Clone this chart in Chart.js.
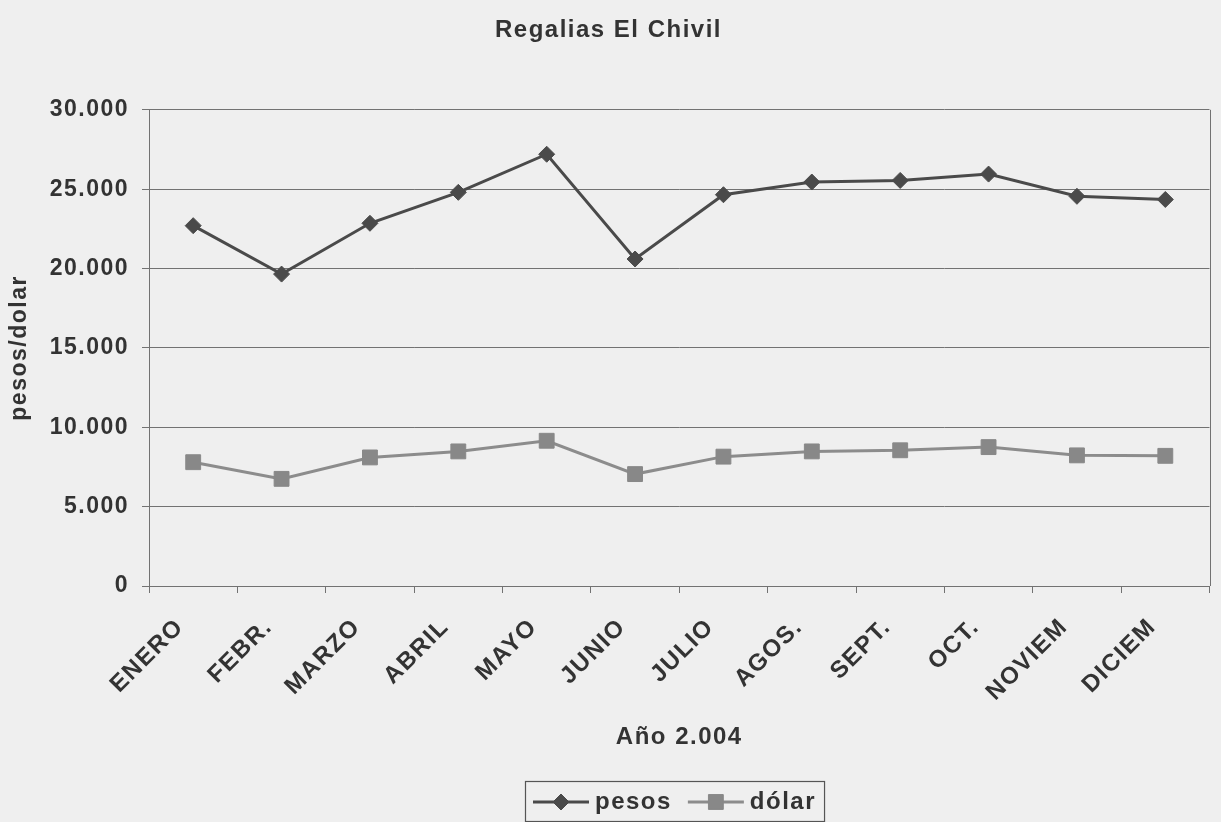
<!DOCTYPE html>
<html lang="es">
<head>
<meta charset="utf-8">
<title>Regalias El Chivil</title>
<script src="https://cdn.jsdelivr.net/npm/chart.js@4/dist/chart.umd.min.js"></script>
<style>
  html, body { margin: 0; padding: 0; background: #efefef; }
  #wrap { position: relative; width: 1221px; height: 822px; }
</style>
</head>
<body>
<div id="wrap"><canvas id="chart"></canvas></div>
<script>
// Regalías mensuales del año 2.004
const months = ['ENERO', 'FEBR.', 'MARZO', 'ABRIL', 'MAYO', 'JUNIO', 'JULIO', 'AGOS.', 'SEPT.', 'OCT.', 'NOVIEM', 'DICIEM'];
const pesos = [22700, 19650, 22850, 24800, 27200, 20600, 24650, 25450, 25550, 25950, 24550, 24350];
const dolar = [7800, 6750, 8100, 8480, 9150, 7050, 8150, 8480, 8550, 8750, 8230, 8200];
const yTickValues = [0, 5000, 10000, 15000, 20000, 25000, 30000];

const chartTitle = 'Regalias El Chivil';
const xTitle = 'Año 2.004';
const yTitle = 'pesos/dolar';

const FONT = '"Liberation Sans", Arial, Helvetica, sans-serif';
const TEXT = '#333333';
const GRID = '#727272';
const SPACING = '1.5px';

function fmt(v) {
  return String(v).replace(/\B(?=(\d{3})+(?!\d))/g, '.');
}

// wider glyph spacing for all canvas text
const spacingPlugin = {
  id: 'spacing',
  beforeLayout(chart) { chart.ctx.letterSpacing = SPACING; },
  beforeDraw(chart) { chart.ctx.letterSpacing = SPACING; }
};

// right edge of the plot frame
const framePlugin = {
  id: 'frame',
  beforeDatasetsDraw(chart) {
    const { ctx, chartArea: a } = chart;
    ctx.save();
    ctx.strokeStyle = GRID;
    ctx.lineWidth = 1;
    ctx.beginPath();
    ctx.moveTo(Math.round(a.right) + 0.5, a.top);
    ctx.lineTo(Math.round(a.right) + 0.5, a.bottom);
    ctx.stroke();
    ctx.restore();
  }
};

// boxed legend with line + marker samples
const boxLegend = {
  id: 'boxLegend',
  afterDraw(chart) {
    const ctx = chart.ctx;
    ctx.save();
    ctx.letterSpacing = SPACING;
    ctx.font = 'bold 24px ' + FONT;
    const lineLen = 56, gapText = 6, gapItem = 16, padX = 8;
    const items = chart.data.datasets.map(ds => ({
      ds, w: lineLen + gapText + ctx.measureText(ds.label).width
    }));
    const total = items.reduce((s, it) => s + it.w, 0) + gapItem * (items.length - 1) + padX * 2;
    const cx = (chart.chartArea.left + chart.chartArea.right) / 2 - 5;
    const left = Math.round(cx - total / 2);
    const top = 781, h = 40, cy = top + h / 2 + 1;
    ctx.fillStyle = '#efefef';
    ctx.fillRect(left, top, total, h);
    ctx.strokeStyle = '#555';
    ctx.lineWidth = 1.2;
    ctx.strokeRect(left + 0.5, top + 0.5, total, h);
    let x = left + padX;
    items.forEach(({ ds, w }) => {
      ctx.strokeStyle = ds.borderColor;
      ctx.lineWidth = ds.borderWidth;
      ctx.beginPath();
      ctx.moveTo(x, cy);
      ctx.lineTo(x + lineLen, cy);
      ctx.stroke();
      ctx.fillStyle = ds.pointBackgroundColor;
      ctx.strokeStyle = ds.pointBorderColor;
      ctx.lineWidth = ds.pointBorderWidth;
      Chart.helpers.drawPoint(ctx, {
        pointStyle: ds.pointStyle,
        radius: ds.pointRadius,
        borderWidth: ds.pointBorderWidth,
        rotation: 0
      }, x + lineLen / 2, cy);
      ctx.fillStyle = TEXT;
      ctx.textAlign = 'left';
      ctx.textBaseline = 'middle';
      ctx.fillText(ds.label, x + lineLen + gapText, cy);
      x += w + gapItem;
    });
    ctx.restore();
  }
};

new Chart(document.getElementById('chart'), {
  type: 'line',
  data: {
    labels: months,
    datasets: [
      {
        label: 'pesos',
        data: pesos,
        borderColor: '#4a4a4a',
        borderWidth: 3,
        pointStyle: 'rectRot',
        pointRadius: 8,
        pointBackgroundColor: '#4a4a4a',
        pointBorderColor: '#4a4a4a',
        pointBorderWidth: 1,
        tension: 0,
        clip: false
      },
      {
        label: 'dólar',
        data: dolar,
        borderColor: '#8c8c8c',
        borderWidth: 3,
        pointStyle: 'rect',
        pointRadius: 10.5,
        pointBackgroundColor: '#888888',
        pointBorderColor: '#888888',
        pointBorderWidth: 1,
        tension: 0,
        clip: false
      }
    ]
  },
  options: {
    responsive: true,
    maintainAspectRatio: false,
    animation: false,
    events: [],
    layout: { padding: { left: 0, right: 4, top: 0, bottom: 0 } },
    plugins: {
      legend: { display: false },
      tooltip: { enabled: false },
      title: {
        display: true,
        text: chartTitle,
        color: TEXT,
        font: { family: FONT, size: 24, weight: 'bold' },
        padding: { top: 16, bottom: 65 }
      }
    },
    scales: {
      x: {
        offset: true,
        grid: {
          display: true,
          offset: true,
          drawOnChartArea: false,
          drawTicks: true,
          tickLength: 7,
          color: GRID
        },
        border: { display: true, color: GRID, width: 1 },
        ticks: {
          color: TEXT,
          font: { family: FONT, size: 24, weight: 'bold' },
          minRotation: 45,
          maxRotation: 45,
          autoSkip: false,
          padding: 20,
          labelOffset: -13
        },
        title: {
          display: true,
          text: xTitle,
          color: TEXT,
          font: { family: FONT, size: 24, weight: 'bold' },
          padding: { top: 0, bottom: 70 }
        },
        afterFit(scale) { scale.height = 236; }
      },
      y: {
        min: 0,
        max: 30000,
        afterBuildTicks(scale) { scale.ticks = yTickValues.map(v => ({ value: v })); },
        grid: {
          color: GRID,
          lineWidth: 1,
          drawTicks: true,
          tickLength: 7
        },
        border: { display: true, color: GRID, width: 1 },
        ticks: {
          color: TEXT,
          font: { family: FONT, size: 23, weight: 'bold' },
          padding: 13,
          callback: v => fmt(v)
        },
        title: {
          display: true,
          text: yTitle,
          color: TEXT,
          font: { family: FONT, size: 23, weight: 'bold' },
          padding: { top: 6, bottom: 0 }
        },
        afterFit(scale) { scale.width = 149; }
      }
    }
  },
  plugins: [spacingPlugin, framePlugin, boxLegend]
});
</script>
</body>
</html>
